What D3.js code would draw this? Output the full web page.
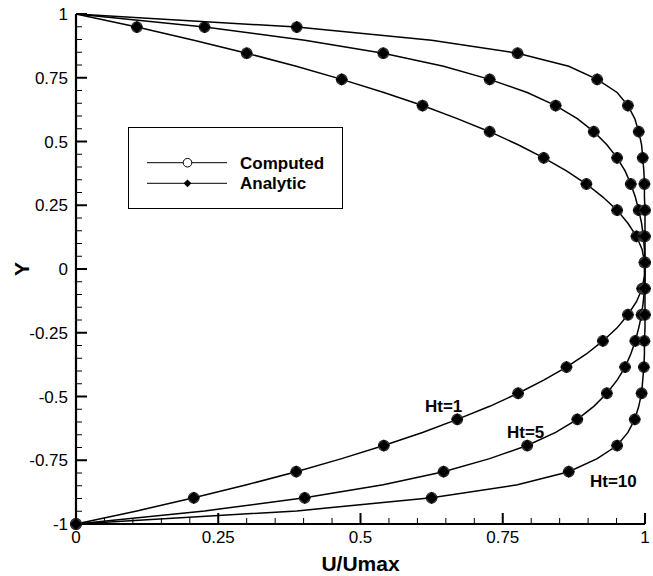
<!DOCTYPE html>
<html>
<head>
<meta charset="utf-8">
<script src="https://cdn.jsdelivr.net/npm/d3@7"></script>
<style>
  html, body { margin: 0; padding: 0; background: #fff; }
  svg { display: block; font-family: "Liberation Sans", Arial, Helvetica, sans-serif; }
</style>
</head>
<body>
<svg id="chart" width="653" height="576"></svg>
<script>
// Grid nodes across the channel, Y from -1 to 1 (40 nodes, spacing 2/39)
const yNodes = [
  -1.0000, -0.9487, -0.8974, -0.8462, -0.7949, -0.7436, -0.6923, -0.6410, -0.5897, -0.5385,
  -0.4872, -0.4359, -0.3846, -0.3333, -0.2821, -0.2308, -0.1795, -0.1282, -0.0769, -0.0256,
   0.0256,  0.0769,  0.1282,  0.1795,  0.2308,  0.2821,  0.3333,  0.3846,  0.4359,  0.4872,
   0.5385,  0.5897,  0.6410,  0.6923,  0.7436,  0.7949,  0.8462,  0.8974,  0.9487,  1.0000
];

// U/Umax profiles at each node
const uHt1 = [
  0, 0.107, 0.207, 0.300, 0.387, 0.467, 0.541, 0.609, 0.670, 0.727,
  0.777, 0.822, 0.862, 0.897, 0.926, 0.951, 0.970, 0.985, 0.995, 0.999,
  0.999, 0.995, 0.985, 0.970, 0.951, 0.926, 0.897, 0.862, 0.822, 0.777,
  0.727, 0.670, 0.609, 0.541, 0.467, 0.387, 0.300, 0.207, 0.107, 0
];
const uHt5 = [
  0, 0.226, 0.402, 0.540, 0.646, 0.727, 0.793, 0.843, 0.881, 0.910,
  0.933, 0.951, 0.965, 0.975, 0.983, 0.989, 0.994, 0.997, 0.999, 1.000,
  1.000, 0.999, 0.997, 0.994, 0.989, 0.983, 0.975, 0.965, 0.951, 0.933,
  0.910, 0.881, 0.843, 0.793, 0.727, 0.646, 0.540, 0.402, 0.226, 0
];
const uHt10 = [
  0, 0.388, 0.625, 0.776, 0.866, 0.916, 0.951, 0.970, 0.982, 0.989,
  0.994, 0.996, 0.998, 0.999, 0.999, 1.000, 1.000, 1.000, 1.000, 1.000,
  1.000, 1.000, 1.000, 1.000, 1.000, 0.999, 0.999, 0.998, 0.996, 0.994,
  0.989, 0.982, 0.970, 0.951, 0.916, 0.866, 0.776, 0.625, 0.388, 0
];

const seriesNames = ["Ht=1", "Ht=5", "Ht=10"];
const seriesValues = [uHt1, uHt5, uHt10];
const legendLabels = ["Computed", "Analytic"];

const xMajorTicks = [0, 0.25, 0.5, 0.75, 1];
const xTickLabels = ["0", "0.25", "0.5", "0.75", "1"];
const yMajorTicks = [-1, -0.75, -0.5, -0.25, 0, 0.25, 0.5, 0.75, 1];
const yTickLabels = ["-1", "-0.75", "-0.5", "-0.25", "0", "0.25", "0.5", "0.75", "1"];
const minorTicks = d3.range(-1, 1.0001, 0.05).map(v => +v.toFixed(2));

const svg = d3.select("#chart");
const x = d3.scaleLinear().domain([0, 1]).range([76, 645]);
const y = d3.scaleLinear().domain([-1, 1]).range([524, 14]);

// Minor and major ticks pointing into the plot
const gx = svg.append("g");
gx.selectAll("line.minor").data(minorTicks.filter(v => v >= 0 && v <= 1 && !xMajorTicks.includes(v)))
  .join("line").attr("x1", d => x(d)).attr("x2", d => x(d))
  .attr("y1", y(-1)).attr("y2", y(-1) - 6)
  .attr("stroke", "#000").attr("stroke-width", 1);
gx.selectAll("line.major").data(xMajorTicks)
  .join("line").attr("x1", d => x(d)).attr("x2", d => x(d))
  .attr("y1", y(-1)).attr("y2", y(-1) - 11)
  .attr("stroke", "#000").attr("stroke-width", 2);
gx.selectAll("text").data(xMajorTicks)
  .join("text").attr("x", d => x(d)).attr("y", y(-1) + 19)
  .attr("text-anchor", "middle").attr("font-size", 17)
  .text((d, i) => xTickLabels[i]);

const gy = svg.append("g");
gy.selectAll("line.minor").data(minorTicks.filter(v => !yMajorTicks.includes(v)))
  .join("line").attr("x1", x(0)).attr("x2", x(0) + 6)
  .attr("y1", d => y(d)).attr("y2", d => y(d))
  .attr("stroke", "#000").attr("stroke-width", 1);
gy.selectAll("line.major").data(yMajorTicks)
  .join("line").attr("x1", x(0)).attr("x2", x(0) + 11)
  .attr("y1", d => y(d)).attr("y2", d => y(d))
  .attr("stroke", "#000").attr("stroke-width", 2);
gy.selectAll("text").data(yMajorTicks)
  .join("text").attr("x", x(0) - 8).attr("y", d => y(d) + 6)
  .attr("text-anchor", "end").attr("font-size", 17)
  .text((d, i) => yTickLabels[i]);

// Axis lines
svg.append("line").attr("x1", x(0)).attr("x2", x(0)).attr("y1", y(1)).attr("y2", y(-1))
  .attr("stroke", "#000").attr("stroke-width", 2.2);
svg.append("line").attr("x1", x(0)).attr("x2", x(1)).attr("y1", y(-1)).attr("y2", y(-1))
  .attr("stroke", "#000").attr("stroke-width", 2.2);

// Profiles: computed (open circles) and analytic (filled diamonds) share the same nodes
const line = d3.line().x(d => x(d[0])).y(d => y(d[1]));
// Square diamond: a square symbol turned by 45 degrees
const diamond = d3.symbol().type(d3.symbolSquare).size(74);

seriesValues.forEach(vals => {
  const pts = vals.map((u, i) => [u, yNodes[i]]);
  svg.append("path").attr("d", line(pts)).attr("fill", "none")
    .attr("stroke", "#000").attr("stroke-width", 1.5);
  const marks = pts.filter((p, i) => i % 2 === 0);
  svg.append("g").selectAll("circle").data(marks).join("circle")
    .attr("cx", d => x(d[0])).attr("cy", d => y(d[1])).attr("r", 5.3)
    .attr("fill", "#555").attr("stroke", "#333").attr("stroke-width", 1.2);
  svg.append("g").selectAll("path").data(marks).join("path")
    .attr("d", diamond).attr("transform", d => `translate(${x(d[0])},${y(d[1])}) rotate(45)`)
    .attr("fill", "#000");
});

// Curve labels
const labelPos = [[425, 412], [507, 438], [590, 487]];
svg.append("g").selectAll("text").data(seriesNames).join("text")
  .attr("x", (d, i) => labelPos[i][0]).attr("y", (d, i) => labelPos[i][1])
  .attr("font-size", 17).attr("font-weight", "bold").text(d => d);

// Axis titles
svg.append("text").attr("x", (x(0) + x(1)) / 2).attr("y", 571)
  .attr("text-anchor", "middle").attr("font-size", 21).attr("font-weight", "bold").text("U/Umax");
svg.append("text").attr("transform", `translate(29,${y(0)}) rotate(-90)`)
  .attr("text-anchor", "middle").attr("font-size", 21).attr("font-weight", "bold").text("Y");

// Legend
const lg = svg.append("g");
lg.append("rect").attr("x", 128.5).attr("y", 127.5).attr("width", 214).attr("height", 81)
  .attr("fill", "#fff").attr("stroke", "#000").attr("stroke-width", 1);
const rows = [162.7, 183.3];
rows.forEach(ry => lg.append("line").attr("x1", 147).attr("x2", 227).attr("y1", ry).attr("y2", ry)
  .attr("stroke", "#000").attr("stroke-width", 1));
lg.append("circle").attr("cx", 187.5).attr("cy", rows[0]).attr("r", 4.3)
  .attr("fill", "#fff").attr("stroke", "#000").attr("stroke-width", 1);
lg.append("path").attr("d", d3.symbol().type(d3.symbolSquare).size(30))
  .attr("transform", `translate(187.5,${rows[1]}) rotate(45)`).attr("fill", "#000");
lg.selectAll("text").data(legendLabels).join("text")
  .attr("x", 240).attr("y", (d, i) => rows[i] + 6)
  .attr("font-size", 17).attr("font-weight", "bold").text(d => d);
</script>
</body>
</html>
